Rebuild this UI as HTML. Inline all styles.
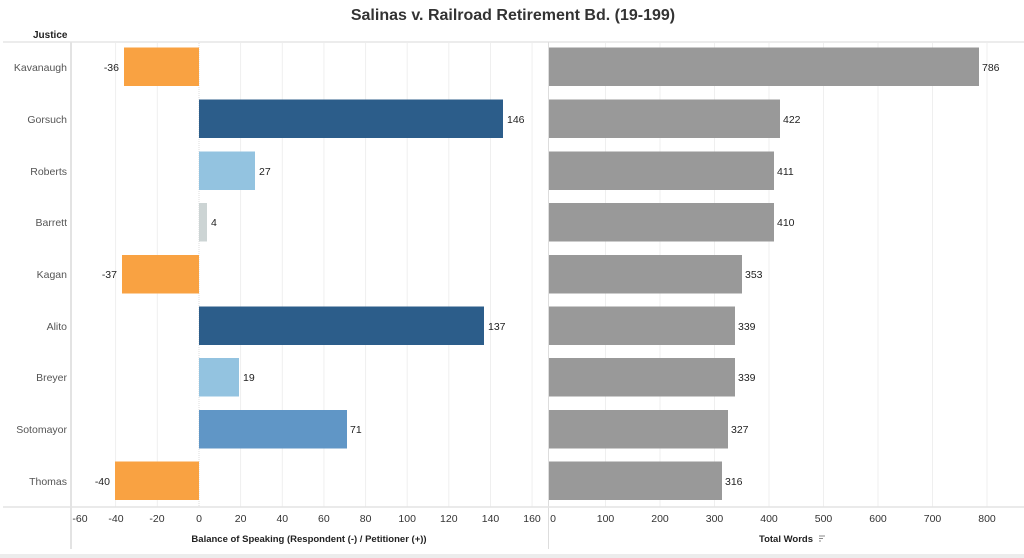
<!DOCTYPE html>
<html><head><meta charset="utf-8"><style>
body{margin:0;background:#fff;}
svg{display:block;font-family:"Liberation Sans",Arial,sans-serif;}
</style></head><body>
<svg width="1024" height="558" viewBox="0 0 1024 558" xmlns="http://www.w3.org/2000/svg">
<rect width="1024" height="558" fill="#fff"/>
<text x="513" y="20" text-anchor="middle" font-size="16" font-weight="bold" fill="#333">Salinas v. Railroad Retirement Bd. (19-199)</text>
<text x="33" y="38" font-size="10" font-weight="bold" fill="#222">Justice</text>
<line x1="3" y1="42" x2="1024" y2="42" stroke="#e6e6e6" stroke-width="1.5"/>
<!-- gridlines left -->
<g stroke="#efefef" stroke-width="1">
<line x1="115.6" y1="43" x2="115.6" y2="507"/><line x1="157.3" y1="43" x2="157.3" y2="507"/>
<line x1="240.6" y1="43" x2="240.6" y2="507"/><line x1="282.3" y1="43" x2="282.3" y2="507"/>
<line x1="323.9" y1="43" x2="323.9" y2="507"/><line x1="365.6" y1="43" x2="365.6" y2="507"/>
<line x1="407.2" y1="43" x2="407.2" y2="507"/><line x1="448.8" y1="43" x2="448.8" y2="507"/>
<line x1="490.5" y1="43" x2="490.5" y2="507"/><line x1="532.1" y1="43" x2="532.1" y2="507"/>
<line x1="605.5" y1="43" x2="605.5" y2="507"/><line x1="660" y1="43" x2="660" y2="507"/>
<line x1="714.5" y1="43" x2="714.5" y2="507"/><line x1="769" y1="43" x2="769" y2="507"/>
<line x1="823.5" y1="43" x2="823.5" y2="507"/><line x1="878" y1="43" x2="878" y2="507"/>
<line x1="932.5" y1="43" x2="932.5" y2="507"/><line x1="987" y1="43" x2="987" y2="507"/>
</g>
<line x1="199" y1="43" x2="199" y2="507" stroke="#ddd" stroke-dasharray="1,1"/>
<line x1="71" y1="42" x2="71" y2="549" stroke="#e3e3e3" stroke-width="2"/>
<line x1="548.5" y1="42" x2="548.5" y2="549" stroke="#ddd" stroke-width="1"/>
<line x1="3" y1="507" x2="1024" y2="507" stroke="#e3e3e3" stroke-width="1.5"/>
<rect x="0" y="554" width="1024" height="4" fill="#ececec"/>
<!-- names -->
<g font-size="10.5" fill="#555" text-anchor="end">
<text x="67" y="71">Kavanaugh</text><text x="67" y="123">Gorsuch</text><text x="67" y="175">Roberts</text>
<text x="67" y="226">Barrett</text><text x="67" y="278">Kagan</text><text x="67" y="330">Alito</text>
<text x="67" y="381">Breyer</text><text x="67" y="433">Sotomayor</text><text x="67" y="485">Thomas</text>
</g>
<!-- left bars -->
<g>
<rect x="124" y="47.5" width="75" height="38.5" fill="#F9A242"/>
<rect x="199" y="99.5" width="304" height="38.5" fill="#2C5D8A"/>
<rect x="199" y="151.5" width="56" height="38.5" fill="#93C3E0"/>
<rect x="199" y="203" width="8" height="38.5" fill="#CCD4D4"/>
<rect x="122" y="255" width="77" height="38.5" fill="#F9A242"/>
<rect x="199" y="306.5" width="285" height="38.5" fill="#2C5D8A"/>
<rect x="199" y="358" width="40" height="38.5" fill="#93C3E0"/>
<rect x="199" y="410" width="148" height="38.5" fill="#6096C6"/>
<rect x="115" y="461.5" width="84" height="38.5" fill="#F9A242"/>
</g>
<g font-size="10.5" fill="#222">
<text x="119" y="71" text-anchor="end">-36</text>
<text x="507" y="123">146</text>
<text x="259" y="175">27</text>
<text x="211" y="226">4</text>
<text x="117" y="278" text-anchor="end">-37</text>
<text x="488" y="330">137</text>
<text x="243" y="381">19</text>
<text x="350" y="433">71</text>
<text x="110" y="485" text-anchor="end">-40</text>
</g>
<!-- right bars -->
<g fill="#999">
<rect x="549" y="47.5" width="430" height="38.5"/>
<rect x="549" y="99.5" width="231" height="38.5"/>
<rect x="549" y="151.5" width="225" height="38.5"/>
<rect x="549" y="203" width="225" height="38.5"/>
<rect x="549" y="255" width="193" height="38.5"/>
<rect x="549" y="306.5" width="186" height="38.5"/>
<rect x="549" y="358" width="186" height="38.5"/>
<rect x="549" y="410" width="179" height="38.5"/>
<rect x="549" y="461.5" width="173" height="38.5"/>
</g>
<g font-size="10.5" fill="#222">
<text x="982" y="71">786</text><text x="783" y="123">422</text><text x="777" y="175">411</text>
<text x="777" y="226">410</text><text x="745" y="278">353</text><text x="738" y="330">339</text>
<text x="738" y="381">339</text><text x="731" y="433">327</text><text x="725" y="485">316</text>
</g>
<!-- axis ticks -->
<g font-size="10.5" fill="#333" text-anchor="middle">
<text x="80" y="522">-60</text><text x="116" y="522">-40</text><text x="157" y="522">-20</text>
<text x="199" y="522">0</text><text x="240.6" y="522">20</text><text x="282.3" y="522">40</text>
<text x="323.9" y="522">60</text><text x="365.6" y="522">80</text><text x="407.2" y="522">100</text>
<text x="448.8" y="522">120</text><text x="490.5" y="522">140</text><text x="532" y="522">160</text>
<text x="553" y="522">0</text><text x="605.5" y="522">100</text><text x="660" y="522">200</text>
<text x="714.5" y="522">300</text><text x="769" y="522">400</text><text x="823.5" y="522">500</text>
<text x="878" y="522">600</text><text x="932.5" y="522">700</text><text x="987" y="522">800</text>
</g>
<text x="309" y="542" text-anchor="middle" font-size="9.5" font-weight="bold" fill="#222">Balance of Speaking (Respondent (-) / Petitioner (+))</text>
<text x="786" y="542" text-anchor="middle" font-size="9.5" font-weight="bold" fill="#222">Total Words</text>
<g stroke="#888" stroke-width="1"><line x1="819" y1="536" x2="825" y2="536"/><line x1="819" y1="538.5" x2="823" y2="538.5"/><line x1="819" y1="541" x2="821" y2="541"/></g>
</svg>
</body></html>
